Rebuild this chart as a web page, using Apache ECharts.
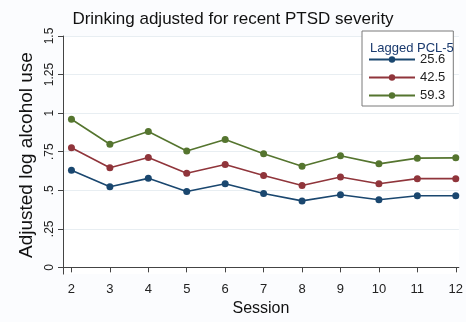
<!DOCTYPE html>
<html><head><meta charset="utf-8">
<script src="https://cdn.jsdelivr.net/npm/echarts@6/dist/echarts.min.js"></script>
<style>html,body{margin:0;padding:0;background:#fbfcfe}#c{width:466px;height:322px}</style>
</head><body><div id="c"></div>
<script>
var sessions = [2,3,4,5,6,7,8,9,10,11,12];
var pcl25 = [0.629,0.523,0.577,0.492,0.542,0.479,0.431,0.471,0.438,0.464,0.464];
var pcl42 = [0.775,0.646,0.712,0.610,0.667,0.596,0.531,0.586,0.542,0.575,0.575];
var pcl59 = [0.960,0.798,0.881,0.754,0.829,0.736,0.656,0.723,0.671,0.708,0.710];
var yTicks = [0,0.25,0.5,0.75,1,1.25,1.5];
var yTickLabels = ['0','.25','.5','.75','1','1.25','1.5'];
var seriesNames = ['25.6','42.5','59.3'];
var colors = ['#1a476f','#90353b','#55752f'];

function pairs(v){ return sessions.map(function(s,i){ return [s, v[i]]; }); }
var chart = echarts.init(document.getElementById('c'), null, {renderer:'canvas'});
var font = 'Liberation Sans, Arial, sans-serif';
chart.setOption({
  backgroundColor:'#fbfcfe',
  animation:false,
  color: colors,
  title:[{
    text:'Drinking adjusted for recent PTSD severity',
    left:'center', top:6,
    textStyle:{fontFamily:font,fontSize:17,fontWeight:'normal',color:'#111'}
  },{
    text:'Lagged PCL-5', left:365, top:37,
    textStyle:{fontFamily:font,fontSize:13,fontWeight:'normal',color:'#1a3a6e'}
  }],
  legend:{
    orient:'vertical', left:362, top:31,
    padding:[22,8,4,6],
    borderColor:'#7a7a7a', borderWidth:1,
    backgroundColor:'#ffffff',
    itemWidth:46, itemHeight:8, itemGap:5,
    textStyle:{fontFamily:font,fontSize:13,color:'#222'},
    data: seriesNames
  },
  grid:{left:63, right:7, top:36, bottom:39, containLabel:false, backgroundColor:'#ffffff', show:true, borderWidth:0},
  xAxis:{
    type:'value', min:1.78, max:12.08,
    name:'Session', nameLocation:'middle', nameGap:26,
    nameTextStyle:{fontFamily:font,fontSize:16,color:'#111'},
    axisLine:{lineStyle:{color:'#444',width:1}},
    axisTick:{show:true,length:5,customValues:sessions,lineStyle:{color:'#444'}},
    axisLabel:{customValues:sessions,fontFamily:font,fontSize:13,color:'#222',margin:9},
    splitLine:{show:false}
  },
  yAxis:{
    type:'value', min:-0.04375, max:1.5,
    name:'Adjusted log alcohol use', nameLocation:'middle', nameGap:24,
    nameTextStyle:{fontFamily:font,fontSize:19,color:'#111'},
    axisLine:{show:true,lineStyle:{color:'#444',width:1}},
    axisTick:{show:true,length:5,customValues:yTicks,lineStyle:{color:'#444'}},
    axisLabel:{customValues:yTicks,rotate:90,fontFamily:font,fontSize:12,color:'#222',margin:7,
      formatter:function(v){ var i=yTicks.indexOf(v); return i>=0?yTickLabels[i]:''; }},
    splitLine:{show:true,lineStyle:{color:'#e8eef2',width:1}}
  },
  series: [pcl25,pcl42,pcl59].map(function(d,i){
    return {name:seriesNames[i], type:'line', data:pairs(d),
      symbol:'circle', symbolSize:7,
      lineStyle:{width:1.6,color:colors[i]}, itemStyle:{color:colors[i]}};
  })
});
</script></body></html>
